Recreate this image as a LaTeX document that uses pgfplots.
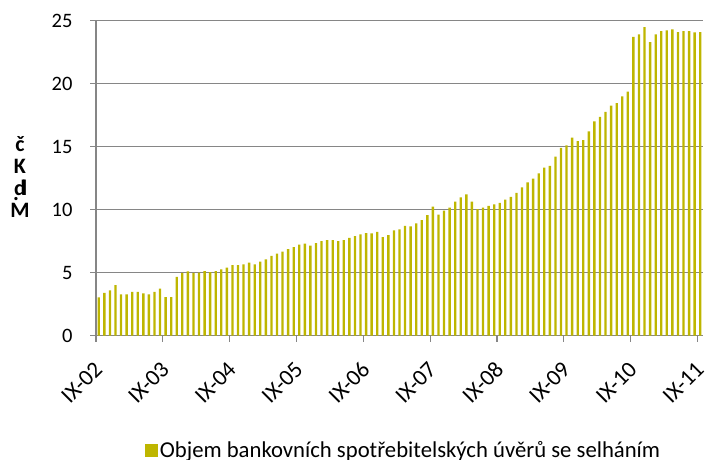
\documentclass[border=0pt]{standalone}
\usepackage{fontspec}
\setmainfont{Carlito}
\usepackage{pgfplots}
\pgfplotsset{compat=1.18}
\usepackage{pgfplotstable}
\definecolor{barcol}{RGB}{190,182,0}
\definecolor{gridcol}{RGB}{134,134,134}
\pgfplotstableread{
x y
0 3.05
1 3.39
2 3.60
3 4.02
4 3.28
5 3.28
6 3.47
7 3.47
8 3.36
9 3.28
10 3.47
11 3.73
12 3.07
13 3.07
14 4.66
15 4.98
16 5.10
17 4.98
18 5.00
19 5.13
20 5.05
21 5.13
22 5.27
23 5.40
24 5.61
25 5.61
26 5.66
27 5.80
28 5.66
29 5.87
30 6.06
31 6.33
32 6.51
33 6.68
34 6.87
35 7.02
36 7.23
37 7.31
38 7.15
39 7.34
40 7.50
41 7.58
42 7.58
43 7.50
44 7.58
45 7.77
46 7.90
47 8.04
48 8.15
49 8.12
50 8.23
51 7.82
52 7.98
53 8.36
54 8.44
55 8.71
56 8.68
57 8.92
58 9.17
59 9.57
60 10.24
61 9.60
62 9.92
63 10.16
64 10.65
65 10.97
66 11.21
67 10.65
68 10.05
69 10.16
70 10.30
71 10.43
72 10.55
73 10.80
74 11.02
75 11.34
76 11.77
77 12.17
78 12.46
79 12.89
80 13.34
81 13.47
82 14.22
83 14.91
84 15.10
85 15.72
86 15.45
87 15.53
88 16.22
89 17.00
90 17.37
91 17.77
92 18.25
93 18.46
94 19.00
95 19.37
96 23.72
97 23.91
98 24.49
99 23.29
100 23.91
101 24.17
102 24.23
103 24.31
104 24.09
105 24.17
106 24.17
107 24.07
108 24.09
}\datatable
\begin{document}
\begin{tikzpicture}
\useasboundingbox (-96pt,-123.5pt) rectangle (610pt,335.7pt);
\begin{axis}[
  at={(0pt,0pt)}, anchor=south west,
  scale only axis,
  width=607pt, height=315pt,
  xmin=-0.5, xmax=108.5,
  ymin=0, ymax=25,
  ytick={0,5,...,25},
  xtick={-0.5,11.5,...,107.5},
  xticklabels={IX-02,IX-03,IX-04,IX-05,IX-06,IX-07,IX-08,IX-09,IX-10,IX-11},
  axis lines*=left,
  axis line style={draw=gridcol, line width=1.2pt, -},
  ymajorgrids,
  grid style={draw=gridcol, line width=1.2pt},
  tick align=outside,
  major tick length=6pt,
  tick style={draw=gridcol, line width=1.2pt},
  yticklabel style={font=\fontsize{20.5}{24}\selectfont, xshift=-14pt},
  /pgf/number format/assume math mode=true,
  xticklabel style={font=\fontsize{23}{26}\selectfont, xshift=2.5pt, yshift=-24pt, rotate=45, anchor=east, inner sep=0pt},
  legend style={at={(0.5066,-0.3635)}, anchor=center, draw=none, fill=none,
    font=\fontsize{22.7}{26}\selectfont, inner sep=0pt},
  legend image code/.code={\fill[barcol] (0pt,-6.5pt) rectangle (13pt,6.5pt);},
]
\addplot[ybar, bar width=0.42, fill=barcol, draw=none] table[x=x, y=y] {\datatable};
\addlegendentry{Objem bankovních spotřebitelských úvěrů se selháním}
\end{axis}
\node[font=\bfseries\fontsize{22}{22}\selectfont, align=center, inner sep=0pt] at (-76pt,159pt)
  {č\\K\\\makebox[0pt]{d}\makebox[0pt]{\hspace{0.42em}l}\makebox[0pt]{\hspace{-0.35em}\raisebox{-0.25em}{.}}\\M};
\end{tikzpicture}
\end{document}
